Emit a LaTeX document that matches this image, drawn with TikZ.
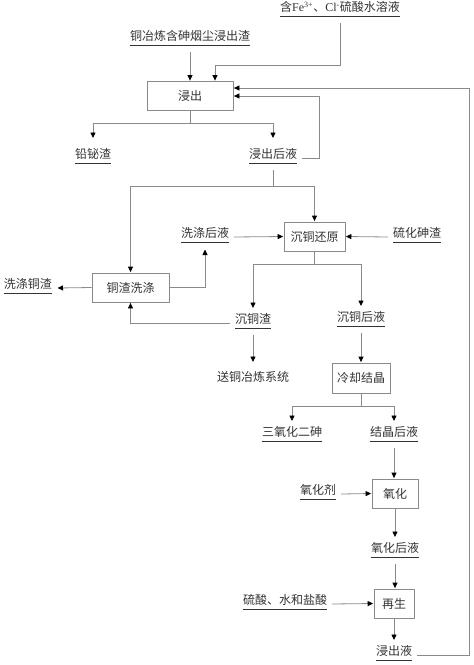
\documentclass[tikz,border=0pt]{standalone}
\usepackage{fontspec}
\setmainfont{Noto Sans CJK SC}
\newfontfamily\lat{Liberation Serif}
\usetikzlibrary{arrows.meta}
\definecolor{ln}{HTML}{8A8A8A}
\definecolor{tx}{HTML}{333333}
\newcommand\myul[1]{\underline{\smash{#1}\vphantom{g}}}
\begin{document}
\begin{tikzpicture}[x=1pt,y=-1pt,
  every node/.style={font=\fontsize{12}{14}\selectfont, text=tx},
  txt/.style={inner sep=0pt, minimum height=16pt, outer xsep=5pt, outer ysep=4pt},
  ul/.style={txt},
  box/.style={draw=ln, line width=0.8pt, minimum width=#1, minimum height=29pt, inner sep=0pt},
  con/.style={draw=ln, line width=0.8pt},
  arr/.style={con, -{Triangle[length=5.5pt,width=5pt,color=black,fill=black]}, shorten >=0.5pt},
  arrt/.style={arr, shorten >=3pt}
]
\useasboundingbox (0,0) rectangle (474,665);

% nodes
\node[ul] (fe) at (340,11) {\myul{含{\lat Fe\textsuperscript{3+}}、{\lat Cl\textsuperscript{-}}硫酸水溶液}};
\node[ul] (dust) at (190,40) {\myul{铜冶炼含砷烟尘浸出渣}};
\node[box=86pt] (leach) at (190,96) {浸出};
\node[ul] (pbbi) at (93,158) {\myul{铅铋渣}};
\node[ul] (leachliq) at (273,158) {\myul{浸出后液}};
\node[box=61pt] (cured) at (314.5,236.5) {沉铜还原};
\node[ul] (ass) at (417,237) {\myul{硫化砷渣}};
\node[ul] (washliq) at (205,237) {\myul{洗涤后液}};
\node[box=77pt] (wash) at (130.5,287.5) {铜渣洗涤};
\node[ul] (washedcu) at (28,288) {\myul{洗涤铜渣}};
\node[ul] (cuslag) at (253,323) {\myul{沉铜渣}};
\node[ul] (culiq) at (361,321) {\myul{沉铜后液}};
\node[txt] (smelt) at (253,377) {送铜冶炼系统};
\node[box=58pt, minimum height=30pt] (cryst) at (361,378) {冷却结晶};
\node[ul] (as2o3) at (292,436) {\myul{三氧化二砷}};
\node[ul] (crliq) at (394,436) {\myul{结晶后液}};
\node[box=46pt] (oxbox) at (395,493.5) {氧化};
\node[ul] (oxid) at (318,494) {\myul{氧化剂}};
\node[ul] (oxliq) at (395,552) {\myul{氧化后液}};
\node[box=40pt] (regen) at (394,603.5) {再生};
\node[ul] (acids) at (285,604) {\myul{硫酸、水和盐酸}};
\node[ul] (lixiv) at (394,655) {\myul{浸出液}};

\coordinate (j1) at (215,65);
\coordinate (j2) at (190,123);
\coordinate (j3) at (273,186);
\coordinate (j4) at (314.5,264);
\coordinate (j5) at (361,406);
\coordinate (j6) at (469,88);
\coordinate (j7) at (319,96);

% connectors
\draw[arr] (dust.south) -- (leach.north);
\draw[arr] (fe.south) |- (j1) -- (j1 |- leach.north);
\draw[con] (leach.south) -- (j2);
\draw[arr, shorten >=8pt] (j2) -| (pbbi.north);
\draw[arr, shorten >=8pt] (j2) -| (leachliq.north);
\draw[arr] (leachliq.east) -| (j7) -- (leach.east |- j7);
\draw[arr] (lixiv.east) -| (j6) -- (leach.east |- j6);

\draw[con] (leachliq.south) -- (j3);
\draw[arr] (j3) -| (wash.north);
\draw[arr] (j3) -| (cured.north);
\draw[arr] (washliq.east) -- (cured.west);
\draw[arr] (ass.west) -- (cured.east);
\draw[arr] (wash.east) -| (washliq.south);
\draw[arr] (wash.west) -- (washedcu.east);

\draw[con] (cured.south) -- (j4);
\draw[arrt] (j4) -| (cuslag.north);
\draw[arrt] (j4) -| (culiq.north);
\draw[arr] (cuslag.west) -| (wash.south);
\draw[arrt] (cuslag.south) -- (smelt.north);
\draw[arr] (culiq.south) -- (cryst.north);

\draw[con] (cryst.south) -- (j5);
\draw[arrt] (j5) -| (as2o3.north);
\draw[arrt] (j5) -| (crliq.north);
\draw[arr] (crliq.south) -- (crliq.south |- oxbox.north);
\draw[arr] (oxid.east) -- (oxbox.west);
\draw[arrt] (oxbox.south) -- (oxbox.south -| oxliq.north) -- (oxliq.north);
\draw[arr] (oxliq.south) -- (oxliq.south |- regen.north);
\draw[arr] (acids.east) -- (regen.west);
\draw[arrt] (regen.south) -- (regen.south -| lixiv.north) -- (lixiv.north);
\end{tikzpicture}
\end{document}
